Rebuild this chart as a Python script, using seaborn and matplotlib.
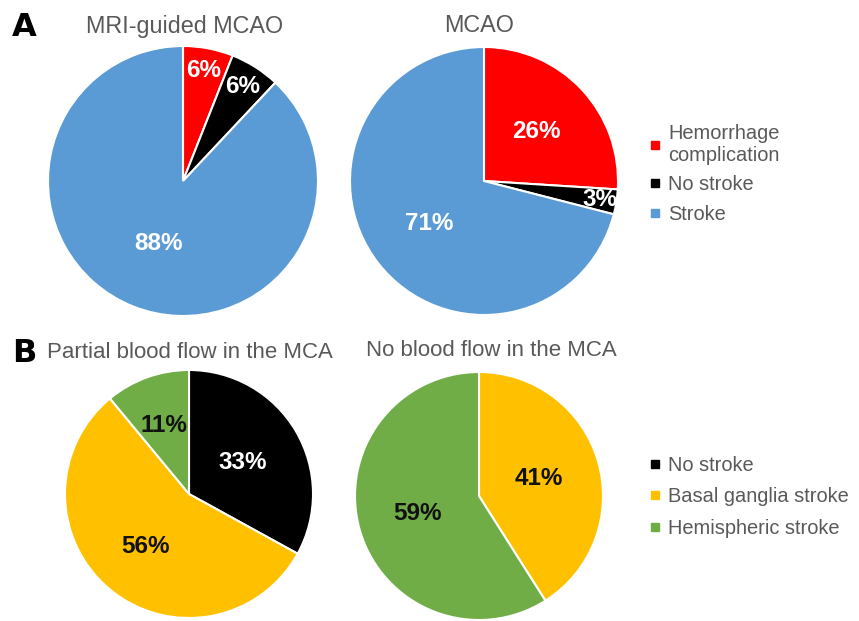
import numpy as np
import matplotlib
matplotlib.use("Agg")
import matplotlib.pyplot as plt
from matplotlib.lines import Line2D
import seaborn as sns

# --- data (percentages) ---
cats_a = ["Hemorrhage\ncomplication", "No stroke", "Stroke"]
mri_guided = [6, 6, 88]
mcao = [26, 3, 71]

cats_b = ["No stroke", "Basal ganglia stroke", "Hemispheric stroke"]
partial_flow = [33, 56, 11]
no_flow = [0, 41, 59]

titles = ["MRI-guided MCAO", "MCAO",
          "Partial blood flow in the MCA", "No blood flow in the MCA"]

colors_a = ["#FF0000", "#000000", "#5B9BD5"]
colors_b = ["#000000", "#FFC000", "#70AD47"]

sns.set_theme(style="white")
plt.rcParams["font.family"] = ["Liberation Sans", "DejaVu Sans"]

W, H = 859, 621
fig = plt.figure(figsize=(W / 100, H / 100), dpi=100)
GRAY = "#595959"


def pie_axes(cx, cy, r):
    # pixel centre/radius -> figure fraction axes
    return fig.add_axes([(cx - r) / W, (H - cy - r) / H, 2 * r / W, 2 * r / H])


def draw_pie(ax, vals, cols, txt_cols, dists):
    keep = [i for i, v in enumerate(vals) if v > 0]
    v = [vals[i] for i in keep]
    c = [cols[i] for i in keep]
    wedges, _, autotexts = ax.pie(
        v, colors=c, startangle=90, counterclock=False, radius=1,
        autopct=lambda p: f"{p:.0f}%",
        wedgeprops=dict(edgecolor="white", linewidth=1.5),
        textprops=dict(fontsize=17.5, fontweight="bold"))
    for k, (w, t) in enumerate(zip(wedges, autotexts)):
        mid = np.deg2rad((w.theta1 + w.theta2) / 2)
        d = dists[keep[k]]
        t.set_position((d * np.cos(mid), d * np.sin(mid)))
        t.set_color(txt_cols[keep[k]])
    ax.set_xlim(-1, 1)
    ax.set_ylim(-1, 1)
    ax.set_aspect("equal")
    ax.axis("off")


ax1 = pie_axes(183, 181, 135)
draw_pie(ax1, mri_guided, colors_a, ["white"] * 3, [0.83, 0.83, 0.5])
ax2 = pie_axes(484, 181, 134)
draw_pie(ax2, mcao, colors_a, ["white"] * 3, [0.54, 0.88, 0.52])
ax3 = pie_axes(189, 494, 124)
draw_pie(ax3, partial_flow, colors_b, ["white", "#111111", "#111111"], [0.5, 0.55, 0.59])
ax4 = pie_axes(479, 496, 124)
draw_pie(ax4, no_flow, colors_b, ["white", "#111111", "#111111"], [0.5, 0.5, 0.52])

# titles
title_pos = [(185, 26), (479, 25), (190, 352), (491, 351)]
title_size = [16.8, 16.8, 16.0, 16.0]
for (x, y), t, fs in zip(title_pos, titles, title_size):
    fig.text(x / W, 1 - y / H, t, ha="center", va="center", fontsize=fs, color=GRAY)

fig.text(12 / W, 1 - 27 / H, "A", fontsize=23, fontweight="bold",
         family="DejaVu Sans", va="center", ha="left", color="black")
fig.text(12 / W, 1 - 353 / H, "B", fontsize=23, fontweight="bold",
         family="DejaVu Sans", va="center", ha="left", color="black")


def legend(cats, cols, x, y, spacing):
    handles = [Line2D([], [], marker="s", linestyle="none", markersize=5.5,
                      markerfacecolor=c, markeredgecolor=c) for c in cols]
    lg = fig.legend(handles, cats, loc="upper left", bbox_to_anchor=(x / W, 1 - y / H),
                    frameon=False, fontsize=14.4, labelcolor=GRAY,
                    handlelength=0.5, handletextpad=0.4, labelspacing=spacing,
                    borderpad=0, borderaxespad=0)
    for t in lg.get_texts():
        t.set_linespacing(1.2)
    return lg


legend(cats_a, colors_a, 650, 124, 0.52)
legend(cats_b, colors_b, 650, 456, 0.62)

fig.savefig("out.png", dpi=100, facecolor="white")
